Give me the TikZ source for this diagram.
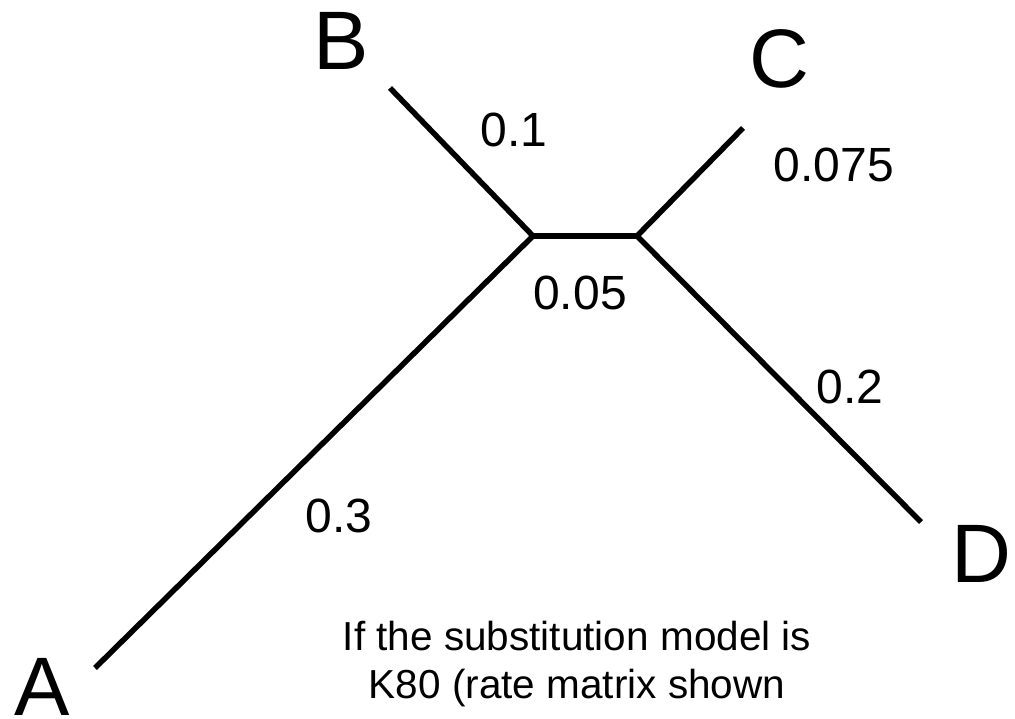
\documentclass[tikz,border=0pt]{standalone}
\usepackage{fontspec}
\setmainfont{Liberation Sans}
\begin{document}
\begin{tikzpicture}[x=1pt,y=-1pt,
  branch/.style={line width=5.5pt},
  leaf/.style={font=\fontsize{83}{99}\selectfont, inner sep=0pt, anchor=base},
  blen/.style={font=\fontsize{48}{58}\selectfont, inner sep=0pt, anchor=base},
  note/.style={font=\fontsize{40.5}{48}\selectfont, inner sep=0pt, align=center}]
\useasboundingbox (0,0) rectangle (1015,719);
\coordinate (u) at (533,236);
\coordinate (v) at (637,236);
\coordinate (b) at (390,88);
\coordinate (c) at (743,128);
\coordinate (d) at (921,522);
\coordinate (a) at (95,668);
\draw[branch] (b) -- (u);
\draw[branch] (c) -- (v);
\draw[branch] (u) -- (v);
\draw[branch] (v) -- (d);
\draw[branch] (u) -- (a);
\node[leaf] (A) at (42,715) {A};
\node[leaf] (B) at (341,70) {B};
\node[leaf] (C) at (779,88) {C};
\node[leaf] (D) at (981,582) {D};
\node[blen] (l1) at (514,147) {0.1};
\node[blen] (l2) at (834,182) {0.075};
\node[blen] (l3) at (580,310) {0.05};
\node[blen] (l4) at (850,403) {0.2};
\node[blen] (l5) at (339,532) {0.3};
\node[note, anchor=north] (n) at (577,621) {If the substitution model is\\K80 (rate matrix shown};
\end{tikzpicture}
\end{document}
